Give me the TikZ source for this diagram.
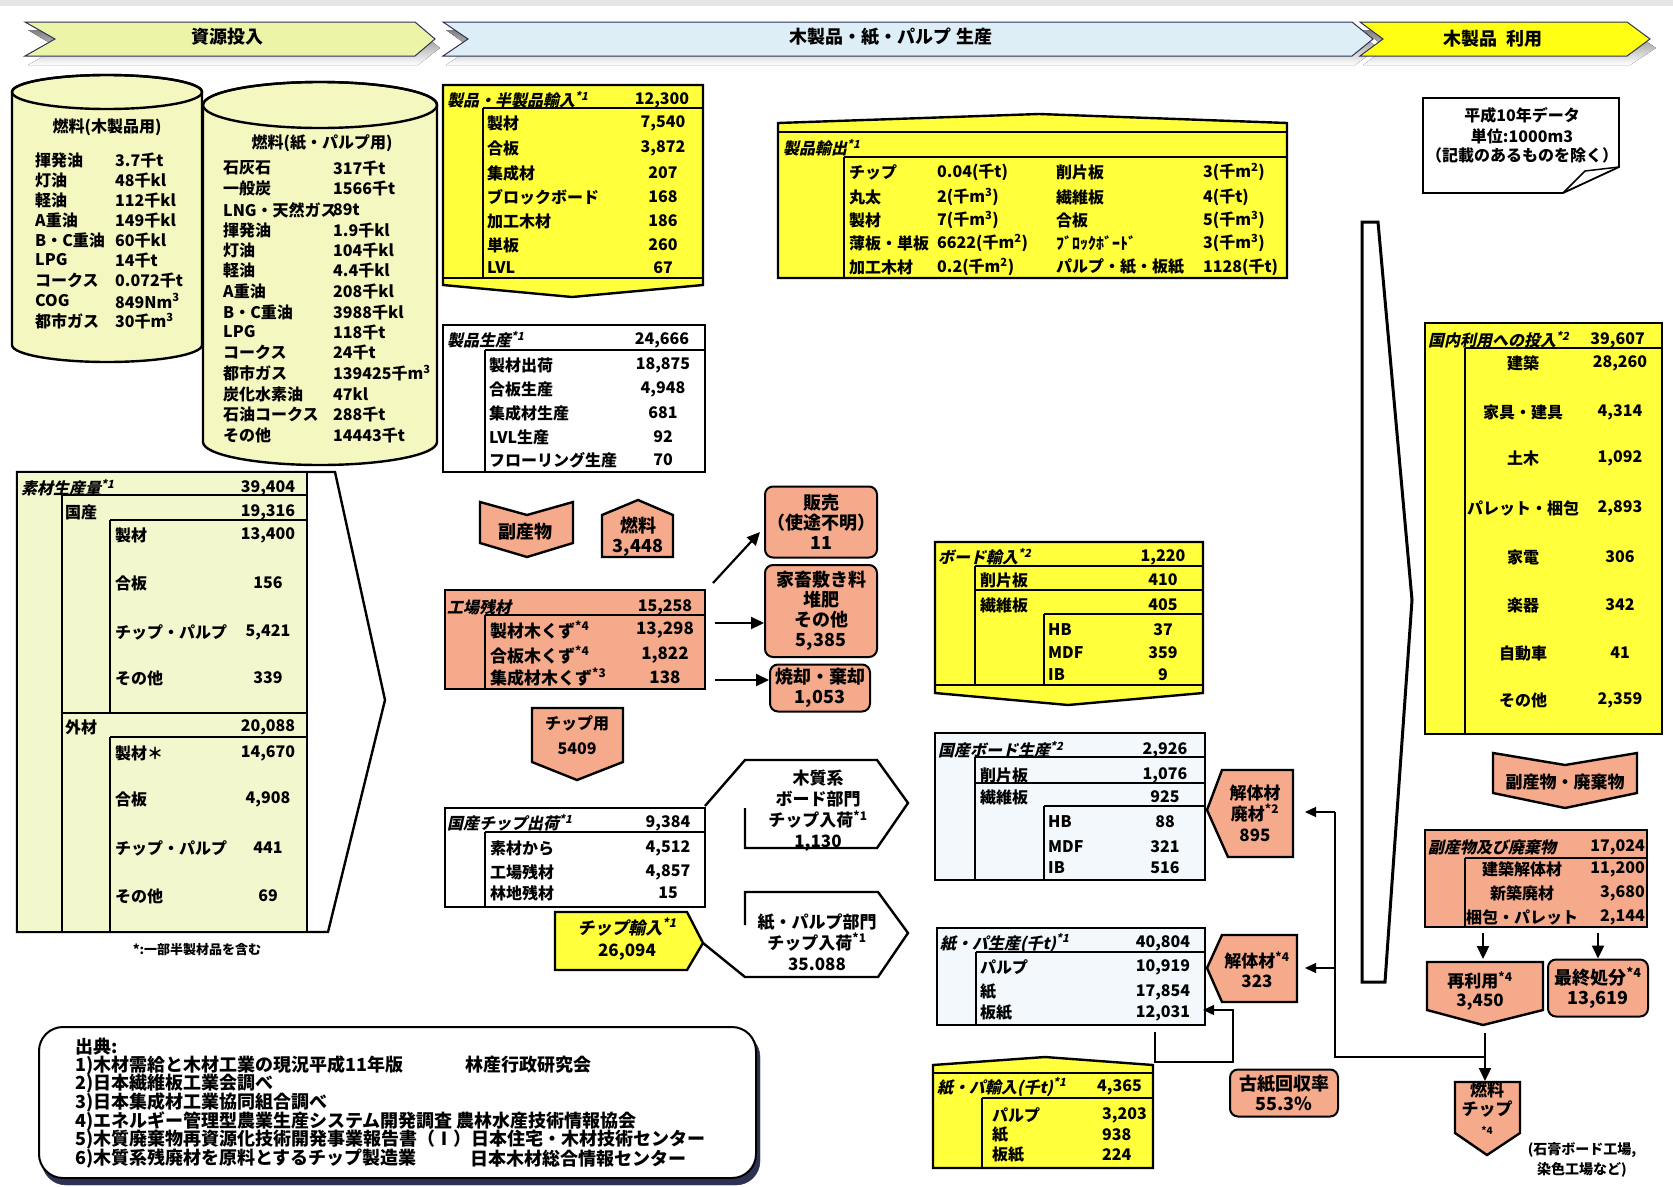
\documentclass[tikz,border=0pt]{standalone}
\usepackage{fontspec}
\setmainfont{Noto Sans CJK JP}
\newfontfamily\slfont{Noto Sans CJK JP}[FakeSlant=0.22]
\usetikzlibrary{arrows.meta,calc}
\definecolor{boxyel}{RGB}{255,255,60}
\definecolor{salm}{RGB}{245,170,140}
\definecolor{cylfill}{RGB}{245,247,192}
\definecolor{rawfill}{RGB}{243,247,205}
\definecolor{bnone}{RGB}{236,244,168}
\definecolor{bntwo}{RGB}{222,238,246}
\definecolor{bnthree}{RGB}{255,255,20}
\definecolor{shade}{RGB}{45,50,85}
\definecolor{paleblue}{RGB}{242,248,252}
\newcommand{\fs}[1]{\fontsize{#1}{#1}\selectfont}
\newcommand{\sx}[1]{\textsuperscript{#1}}
\tikzset{
  tx/.style={inner sep=0pt,font=\bfseries\fs{16}},
  lb/.style={tx,anchor=west},
  hd/.style={inner sep=0pt,anchor=west,font=\slfont\bfseries\fs{16}},
  src/.style={lb,font=\bfseries\fs{18}},
  ob/.style={draw,line width=2.4pt},
  ib/.style={line width=1.3pt},
  ct/.style={inner sep=0pt,align=center,font=\bfseries\fontsize{18}{20}\selectfont},
  rbox/.style={draw,line width=2pt,rounded corners=8pt,fill=salm,inner sep=0pt,align=center,font=\bfseries\fontsize{18}{20}\selectfont},
  arr/.style={line width=2.2pt,-{Triangle[length=13pt,width=12pt]}},
  tarr/.style={line width=1.4pt,-{Triangle[length=11pt,width=10pt]}},
}
\begin{document}
\begin{tikzpicture}[x=1pt,y=-1pt,line join=miter]
\useasboundingbox(0,0)rectangle(1673,1186);
\fill[white](0,0)rectangle(1673,1186);\fill[black!10](0,0)rectangle(1673,6);
% banners
\fill[shade](28,30)--(418,30)--(440,48)--(418,65)--(28,65)--(58,48)--cycle;
\filldraw[fill=bnone,draw=shade,line width=1pt](25,22)--(415,22)--(435,39)--(415,56)--(25,56)--(55,39)--cycle;
\fill[shade](446,30)--(1355,30)--(1378,48)--(1355,65)--(446,65)--(471,48)--cycle;
\filldraw[fill=bntwo,draw=shade,line width=1pt](443,22)--(1352,22)--(1373,39)--(1352,56)--(443,56)--(468,39)--cycle;
\fill[shade](1363,30)--(1630,30)--(1656,48)--(1630,65)--(1363,65)--(1386,48)--cycle;
\filldraw[fill=bnthree,draw=shade,line width=1pt](1360,22)--(1627,22)--(1650,39)--(1627,56)--(1360,56)--(1383,39)--cycle;
\node[tx,font=\bfseries\fs{18}](bn1)at(227,37){資源投入};
\node[tx,font=\bfseries\fs{18}](bn2)at(891,37){木製品・紙・パルプ\ 生産};
\node[tx,font=\bfseries\fs{18}](bn3)at(1493,39){木製品\ \ 利用};
% fuel cylinders
\filldraw[fill=cylfill,ob](12,92)--(12,345)arc[start angle=180,end angle=0,x radius=95,y radius=17]--(202,92)arc[start angle=0,end angle=-180,x radius=95,y radius=17]--cycle;
\draw[ob](107,92)ellipse[x radius=95,y radius=17];
\filldraw[fill=cylfill,ob](203,105)--(203,442)arc[start angle=180,end angle=0,x radius=117,y radius=23]--(437,105)arc[start angle=0,end angle=-180,x radius=117,y radius=23]--cycle;
\draw[ob](320,105)ellipse[x radius=117,y radius=23];
\node[tx](cy1)at(107,127){燃料(木製品用)};
\foreach \t/\v/\y [count=\i] in {揮発油/{3.7千t}/160,灯油/{48千kl}/180,軽油/{112千kl}/200,A重油/{149千kl}/220,B・C重油/{60千kl}/240,LPG/{14千t}/260,コークス/{0.072千t}/280,COG/{849Nm\sx{3}}/301,都市ガス/{30千m\sx{3}}/321}
  {\node[lb](ca\i)at(35,\y){\t};\node[lb](cav\i)at(115,\y){\v};}
\node[tx](cy2)at(322,143){燃料(紙・パルプ用)};
\foreach \t/\v/\y [count=\i] in {石灰石/{317千t}/168,一般炭/{1566千t}/188,LNG・天然ガス/{89t}/210,揮発油/{1.9千kl}/230,灯油/{104千kl}/250,軽油/{4.4千kl}/270,A重油/{208千kl}/291,B・C重油/{3988千kl}/312,LPG/{118千t}/332,コークス/{24千t}/352,都市ガス/{139425千m\sx{3}}/373,炭化水素油/{47kl}/394,石油コークス/{288千t}/414,その他/{14443千t}/435}
  {\node[lb](cb\i)at(223,\y){\t};\node[lb](cbv\i)at(333,\y){\v};}
% raw wood production
\filldraw[fill=white,ob](17,472)--(335,472)--(385,700)--(328,932)--(17,932)--cycle;
\filldraw[fill=rawfill,ob](17,472)rectangle(307,932);
\draw[ib](62,495)--(307,495)(62,495)--(62,932)(62,713)--(307,713)(110,520)--(307,520)(110,520)--(110,713)(110,737)--(307,737)(110,737)--(110,932);
\node[hd](sz)at(21,488){素材生産量\sx{*1}};\node[tx](szv)at(268,488){39,404};
\node[lb](kk)at(65,512){国産};\node[tx](kkv)at(268,512){19,316};
\foreach \t/\v/\y [count=\i] in {製材/{13,400}/535,合板/156/583,チップ・パルプ/{5,421}/632,その他/339/678}
  {\node[lb](kr\i)at(115,\y){\t};\node[tx](krv\i)at(268,\y){\v};}
\node[lb](gz)at(65,727){外材};\node[tx](gzv)at(268,727){20,088};
\foreach \t/\v/\y [count=\i] in {製材＊/{14,670}/753,合板/{4,908}/799,チップ・パルプ/441/848,その他/69/896}
  {\node[lb](gr\i)at(115,\y){\t};\node[tx](grv\i)at(268,\y){\v};}
\node[tx,font=\bfseries\fs{13}](note1)at(197,950){*:一部半製材品を含む};
% imports of products
\filldraw[fill=boxyel,ob](443,85)--(703,85)--(703,285)--(572,297)--(443,285)--cycle;
\draw[ob](443,278)--(703,278);\draw[ib](483,108)--(703,108)(483,108)--(483,278);
\node[hd](imp)at(447,100){製品・半製品輸入\sx{*1}};\node[tx](impv)at(662,100){12,300};
\foreach \t/\v/\y [count=\i] in {製材/{7,540}/123,合板/{3,872}/148,集成材/207/173,ブロックボード/168/197,加工木材/186/221,単板/260/245,LVL/67/268}
  {\node[lb](ir\i)at(487,\y){\t};\node[tx](irv\i)at(663,\y){\v};}
% production
\filldraw[fill=white,ob](443,325)rectangle(705,472);
\draw[ib](485,350)--(705,350)(485,350)--(485,472);
\node[hd](prd)at(447,340){製品生産\sx{*1}};\node[tx](prdv)at(662,340){24,666};
\foreach \t/\v/\y [count=\i] in {製材出荷/{18,875}/365,合板生産/{4,948}/389,集成材生産/681/413,LVL生産/92/437,フローリング生産/70/460}
  {\node[lb](pr\i)at(489,\y){\t};\node[tx](prv\i)at(663,\y){\v};}
% exports
\filldraw[fill=boxyel,ob](778,123)--(1039,114)--(1287,123)--(1287,278)--(778,278)--cycle;
\draw[ob](778,132)--(1287,132);\draw[ib](844,157)--(1287,157)(844,157)--(844,278);
\node[hd](exp)at(783,148){製品輸出\sx{*1}};
\foreach \a/\b/\c/\d/\y [count=\i] in {チップ/{0.04(千t)}/削片板/{3(千m\sx{2})}/172,丸太/{2(千m\sx{3})}/繊維板/{4(千t)}/197,製材/{7(千m\sx{3})}/合板/{5(千m\sx{3})}/220,薄板・単板/{6622(千m\sx{2})}/ﾌﾞﾛｯｸﾎﾞｰﾄﾞ/{3(千m\sx{3})}/243,加工木材/{0.2(千m\sx{2})}/パルプ・紙・板紙/{1128(千t)}/267}
  {\node[lb](xa\i)at(849,\y){\a};\node[lb](xb\i)at(937,\y){\b};\node[lb](xc\i)at(1056,\y){\c};\node[lb](xd\i)at(1203,\y){\d};}
% data note
\draw[line width=1.8pt,fill=white](1423,98)--(1619,98)--(1619,167)--(1563,193)--(1423,193)--cycle;
\draw[line width=1.5pt](1619,167)--(1585,171)--(1563,193);
\node[tx,font=\bfseries\fs{16}](nt1)at(1522,115){平成10年データ};
\node[tx,font=\bfseries\fs{16}](nt2)at(1522,136){単位:1000m3};
\node[tx,font=\bfseries\fs{16}](nt3)at(1522,155){（記載のあるものを除く）};
% big arrow to domestic use
\filldraw[fill=white,line width=3pt](1362,222)--(1378,222)--(1412,600)--(1385,982)--(1362,982)--cycle;
% domestic use
\filldraw[fill=boxyel,ob](1425,323)rectangle(1662,734);
\draw[ib](1465,348)--(1662,348)(1465,348)--(1465,734);
\node[hd](dom)at(1428,340){国内利用への投入\sx{*2}};\node[tx,anchor=east](domv)at(1645,340){39,607};
\foreach \t/\v/\y [count=\i] in {建築/{28,260}/363,家具・建具/{4,314}/412,土木/{1,092}/458,パレット・梱包/{2,893}/508,家電/306/557,楽器/342/605,自動車/41/653,その他/{2,359}/700}
  {\node[tx](du\i)at(1523,\y){\t};\node[tx](duv\i)at(1620,\y){\v};}
% wastes
\filldraw[fill=salm,ob](1493,753)--(1565,765)--(1637,753)--(1637,793)--(1565,808)--(1493,793)--cycle;
\node[ct,font=\bfseries\fs{17}](fuku2)at(1565,782){副産物・廃棄物};
\filldraw[fill=salm,ob](1425,830)rectangle(1647,927);
\draw[ib](1465,858)--(1647,858)(1465,858)--(1465,927);
\node[hd](wst)at(1428,847){副産物及び廃棄物};\node[tx,anchor=east](wstv)at(1645,847){17,024};
\foreach \t/\v/\y [count=\i] in {建築解体材/{11,200}/869,新築廃材/{3,680}/893,梱包・パレット/{2,144}/917}
  {\node[tx](wr\i)at(1522,\y){\t};\node[tx,anchor=east](wrv\i)at(1645,\y){\v};}
\filldraw[fill=salm,ob](1427,962)--(1543,962)--(1543,1010)--(1483,1025)--(1427,1010)--cycle;
\node[ct,font=\bfseries\fontsize{17}{19}\selectfont](sairiyo)at(1480,991){再利用\sx{*4}\\3,450};
\node[rbox,minimum width=100pt,minimum height=57pt](saishu)at(1598,988){最終処分\sx{*4}\\13,619};
\filldraw[fill=salm,ob](1455,1082)--(1520,1082)--(1520,1133)--(1487,1155)--(1455,1133)--cycle;
\node[ct,font=\bfseries\fontsize{17}{19}\selectfont](nchip)at(1487,1108){燃料\\チップ\\{\fs{10}*4}};
\node[tx,align=center,font=\bfseries\fontsize{14}{20}\selectfont](kojo)at(1582,1160){(石膏ボード工場,\\染色工場など)};
\coordinate(b1)at(1483,933);\coordinate(b1e)at(1483,959);\draw[arr](b1)--(b1e);
\coordinate(b2)at(1598,933);\draw[arr](b2)--(b2|-saishu.north);
\coordinate(c1)at(1485,1033);\coordinate(c1e)at(1485,1081);\draw[arr](c1)--(c1e);
\coordinate(c2)at(1485,1057);\coordinate(c3)at(1335,812);\coordinate(c3e)at(1305,812);\coordinate(c4)at(1335,968);\coordinate(c4e)at(1305,968);
\draw[ib](c2)-|(c3);\draw[tarr](c3)--(c3e);\draw[tarr](c4)--(c4e);
% by-products of mills
\filldraw[fill=salm,ob](480,502)--(527,515)--(573,502)--(573,543)--(527,557)--(480,543)--cycle;
\node[ct](fukus)at(525,532){副産物};
\filldraw[fill=salm,ob](602,515)--(638,500)--(673,515)--(673,557)--(602,557)--cycle;
\node[ct](nenryo)at(638,537){燃料\\3,448};
\filldraw[fill=salm,ob](445,590)rectangle(705,689);
\draw[ib](485,615)--(705,615)(485,615)--(485,689);
\node[hd](zan)at(447,607){工場残材};\node[tx](zanv)at(665,607){15,258};
\foreach \t/\v/\y [count=\i] in {製材木くず\sx{*4}/{13,298}/630,合板木くず\sx{*4}/{1,822}/655,集成材木くず\sx{*3}/138/677}
  {\node[lb,font=\bfseries\fs{17}](zr\i)at(490,\y){\t};\node[tx,font=\bfseries\fs{17}](zrv\i)at(665,\y){\v};}
\node[rbox,minimum width=112pt,minimum height=71pt](hanbai)at(821,522){販売\\（使途不明）\\11};
\node[rbox,minimum width=112pt,minimum height=92pt](kachiku)at(821,611){家畜敷き料\\堆肥\\その他\\5,385};
\node[rbox,minimum width=100pt,minimum height=47pt](shoukyaku)at(820,688){焼却・棄却\\1,053};
\coordinate(a1)at(713,583);\coordinate(a1e)at(760,532);\draw[arr](a1)--(a1e);
\coordinate(a2)at(715,623);\draw[arr](a2)--(a2-|kachiku.west);
\coordinate(a3)at(715,680);\draw[arr](a3)--(a3-|shoukyaku.west);
\filldraw[fill=salm,ob](532,708)--(623,708)--(623,762)--(577,780)--(532,762)--cycle;
\node[ct,font=\bfseries\fontsize{16}{25}\selectfont](chipyo)at(577,735){チップ用\\5409};
% chips
\draw[ob](705,806)--(745,760)--(877,760)--(908,803)--(877,848)--(745,848)--(745,808);
\node[ct,font=\bfseries\fontsize{17}{21}\selectfont](boardin)at(818,811){木質系\\ボード部門\\チップ入荷\sx{*1}\\1,130};
\filldraw[fill=white,ob](445,808)rectangle(705,907);
\draw[ib](485,832)--(705,832)(485,832)--(485,907);
\node[hd](dchip)at(447,823){国産チップ出荷\sx{*1}};\node[tx](dchipv)at(668,823){9,384};
\foreach \t/\v/\y [count=\i] in {素材から/{4,512}/848,工場残材/{4,857}/872,林地残材/15/893}
  {\node[lb](dc\i)at(490,\y){\t};\node[tx](dcv\i)at(668,\y){\v};}
\draw[ob](703,943)--(745,977)--(878,977)--(908,933)--(878,892)--(745,892)--(745,925);
\node[ct,font=\bfseries\fontsize{17}{21}\selectfont](pulpin)at(817,942){紙・パルプ部門\\チップ入荷\sx{*1}\\35.088};
\filldraw[fill=boxyel,ob](555,912)--(687,912)--(703,943)--(687,970)--(555,970)--cycle;
\node[tx,font=\slfont\bfseries\fs{17}](cimp)at(627,927){チップ輸入\sx{*1}};\node[tx,font=\bfseries\fs{17}](cimpv)at(627,952){26,094};
% boards
\filldraw[fill=boxyel,ob](935,542)--(1203,542)--(1203,693)--(1068,705)--(935,693)--cycle;
\draw[ob](935,685)--(1203,685);
\draw[ib](975,566)--(1203,566)(975,590)--(1203,590)(1044,614)--(1203,614)(975,566)--(975,685)(1044,614)--(1044,685);
\node[hd](bimp)at(938,557){ボード輸入\sx{*2}};\node[tx](bimpv)at(1163,557){1,220};
\foreach \t/\v/\x/\y [count=\i] in {削片板/410/980/580,繊維板/405/980/605,HB/37/1048/630,MDF/359/1048/653,IB/9/1048/675}
  {\node[lb](bi\i)at(\x,\y){\t};\node[tx](biv\i)at(1163,\y){\v};}
\filldraw[fill=paleblue,ob](935,733)rectangle(1205,880);
\draw[ib](975,757)--(1205,757)(975,783)--(1205,783)(1044,806)--(1205,806)(975,757)--(975,880)(1044,806)--(1044,880);
\node[hd](bdom)at(938,750){国産ボード生産\sx{*2}};\node[tx](bdomv)at(1165,750){2,926};
\foreach \t/\v/\x/\y [count=\i] in {削片板/{1,076}/980/775,繊維板/925/980/797,HB/88/1048/822,MDF/321/1048/847,IB/516/1048/868}
  {\node[lb](bd\i)at(\x,\y){\t};\node[tx](bdv\i)at(1165,\y){\v};}
\filldraw[fill=salm,ob](1207,810)--(1222,770)--(1293,770)--(1293,857)--(1228,857)--cycle;
\node[ct,font=\bfseries\fontsize{17}{21}\selectfont](kaitai1)at(1255,813){解体材\\廃材\sx{*2}\\895};
% paper and pulp
\filldraw[fill=paleblue,ob](937,928)rectangle(1205,1025);
\draw[ib](976,952)--(1205,952)(976,952)--(976,1025);
\node[hd](ppr)at(940,943){紙・パ生産(千t)\sx{*1}};\node[tx](pprv)at(1163,943){40,804};
\foreach \t/\v/\y [count=\i] in {パルプ/{10,919}/967,紙/{17,854}/992,板紙/{12,031}/1013}
  {\node[lb](pp\i)at(980,\y){\t};\node[tx](ppv\i)at(1163,\y){\v};}
\filldraw[fill=salm,ob](1207,968)--(1222,935)--(1297,935)--(1297,1002)--(1222,1002)--cycle;
\node[ct,font=\bfseries\fontsize{17}{20}\selectfont](kaitai2)at(1257,970){解体材\sx{*4}\\323};
\filldraw[fill=boxyel,ob](933,1065)--(1045,1057)--(1153,1065)--(1153,1168)--(933,1168)--cycle;
\draw[ob](933,1073)--(1153,1073);\draw[ib](982,1098)--(1153,1098)(982,1098)--(982,1168);
\node[hd](pimp)at(937,1087){紙・パ輸入(千t)\sx{*1}};\node[lb](pimpv)at(1097,1087){4,365};
\foreach \t/\v/\y [count=\i] in {パルプ/{3,203}/1115,紙/938/1135,板紙/224/1155}
  {\node[lb](pi\i)at(992,\y){\t};\node[lb](piv\i)at(1102,\y){\v};}
\node[rbox,minimum width=108pt,minimum height=47pt](koshi)at(1284,1093){古紙回収率\\55.3\%};
\coordinate(d1)at(1155,1032);\coordinate(d2)at(1233,1062);\coordinate(d3)at(1203,1010);
\draw[tarr](d1)|-(d2)|-(d3);
% sources
\filldraw[fill=shade,draw=shade,rounded corners=24pt](42,1033)rectangle(760,1185);
\filldraw[fill=white,line width=2pt,rounded corners=24pt](39,1027)rectangle(756,1178);
\node[src](src0)at(75,1047){出典:};
\node[src](src1)at(75,1065){1)木材需給と木材工業の現況平成11年版};
\node[src](src1b)at(465,1065){林産行政研究会};
\node[src](src2)at(75,1084){2)日本繊維板工業会調べ};
\node[src](src3)at(75,1102){3)日本集成材工業協同組合調べ};
\node[src](src4)at(75,1121){4)エネルギー管理型農業生産システム開発調査\ 農林水産技術情報協会};
\node[src](src5)at(75,1140){5)木質廃棄物再資源化技術開発事業報告書（Ⅰ）日本住宅・木材技術センター};
\node[src](src6)at(75,1159){6)木質系残廃材を原料とするチップ製造業};
\node[src](src6b)at(470,1159){日本木材総合情報センター};
\end{tikzpicture}
\end{document}
